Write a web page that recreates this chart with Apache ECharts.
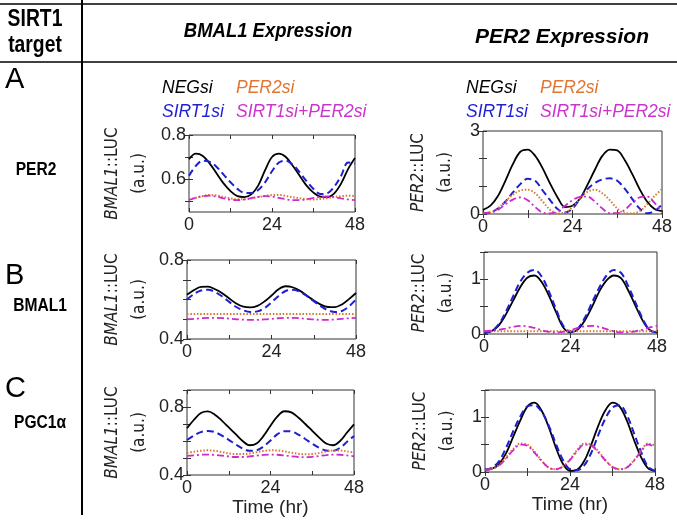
<!DOCTYPE html>
<html><head><meta charset="utf-8">
<script src="https://cdn.jsdelivr.net/npm/echarts@6/dist/echarts.min.js"></script>
<style>html,body{margin:0;padding:0;background:#fff}#c{width:677px;height:526px}</style>
</head><body><div id="c"></div>
<script>
// time samples (hr)
const hours = [0,2,4,6,8,10,12,14,16,18,20,22,24,26,28,30,32,34,36,38,40,42,44,46,48];
const xTickValues = [0,12,24,36,48];
const xTickLabels = [0,24,48];

// Row A (SIRT1 target PER2) - BMAL1::LUC
const aBmalNEG   = [0.69,0.715,0.705,0.67,0.625,0.58,0.545,0.522,0.518,0.53,0.57,0.64,0.70,0.715,0.70,0.66,0.615,0.57,0.538,0.52,0.518,0.535,0.58,0.645,0.695];
const aBmalSIRT1 = [0.615,0.66,0.683,0.678,0.655,0.62,0.585,0.555,0.537,0.536,0.55,0.585,0.635,0.675,0.683,0.665,0.63,0.59,0.555,0.532,0.535,0.565,0.615,0.675,0.67];
const aBmalPER2  = [0.507,0.515,0.523,0.527,0.525,0.518,0.512,0.508,0.508,0.512,0.518,0.523,0.527,0.527,0.523,0.517,0.512,0.508,0.507,0.509,0.513,0.518,0.522,0.524,0.523];
const aBmalBOTH  = [0.505,0.515,0.522,0.524,0.52,0.512,0.506,0.504,0.507,0.513,0.519,0.522,0.52,0.514,0.508,0.504,0.504,0.508,0.514,0.519,0.521,0.518,0.512,0.507,0.504];
// Row A - PER2::LUC
const aPerNEG    = [0.15,0.3,0.65,1.2,1.8,2.25,2.33,2.1,1.65,1.1,0.6,0.25,0.3,0.55,1.05,1.6,2.1,2.33,2.3,1.95,1.45,0.9,0.45,0.18,0.1];
const aPerSIRT1  = [0.02,0.06,0.2,0.45,0.78,1.08,1.27,1.2,0.85,0.5,0.18,0.05,0.2,0.55,0.9,1.12,1.25,1.29,1.2,0.92,0.55,0.2,0.03,0.1,0.35];
const aPerPER2   = [0.02,0.05,0.2,0.45,0.7,0.85,0.88,0.75,0.45,0.15,0.02,0.05,0.25,0.55,0.8,0.88,0.75,0.5,0.2,0.03,0.02,0.1,0.35,0.65,0.9];
const aPerBOTH   = [0.02,0.05,0.15,0.35,0.52,0.6,0.5,0.25,0.05,0.02,0.1,0.3,0.5,0.62,0.63,0.45,0.2,0.03,0.03,0.15,0.4,0.6,0.63,0.4,0.1];

// Row B (SIRT1 target BMAL1) - BMAL1::LUC
const bBmalNEG   = [0.624,0.648,0.664,0.665,0.652,0.632,0.605,0.58,0.564,0.56,0.568,0.59,0.62,0.652,0.667,0.662,0.645,0.62,0.595,0.574,0.562,0.561,0.575,0.602,0.633];
const bBmalSIRT1 = [0.6,0.628,0.646,0.649,0.638,0.615,0.588,0.562,0.545,0.537,0.54,0.556,0.585,0.618,0.643,0.649,0.64,0.618,0.592,0.566,0.546,0.537,0.542,0.565,0.6];
const bBmalPER2  = [0.527,0.527,0.527,0.527,0.527,0.527,0.527,0.527,0.527,0.527,0.527,0.527,0.527,0.527,0.527,0.527,0.527,0.527,0.527,0.527,0.527,0.527,0.527,0.527,0.527];
const bBmalBOTH  = [0.5,0.502,0.505,0.507,0.507,0.506,0.503,0.5,0.498,0.497,0.497,0.499,0.502,0.505,0.507,0.507,0.505,0.502,0.499,0.497,0.497,0.499,0.502,0.505,0.507];
// Row B - PER2::LUC
const bPerNEG    = [0.02,0.05,0.15,0.35,0.6,0.85,1.03,1.07,0.95,0.7,0.4,0.12,0.03,0.08,0.25,0.5,0.78,0.98,1.07,1.02,0.8,0.52,0.25,0.07,0.03];
const bPerSIRT1  = [0.02,0.05,0.17,0.4,0.68,0.95,1.12,1.17,1.05,0.78,0.45,0.15,0.04,0.1,0.3,0.58,0.85,1.07,1.17,1.12,0.88,0.58,0.28,0.07,0.03];
const bPerPER2   = [0.05,0.05,0.05,0.05,0.05,0.05,0.05,0.05,0.05,0.05,0.05,0.05,0.05,0.05,0.05,0.05,0.05,0.05,0.05,0.05,0.05,0.05,0.05,0.05,0.05];
const bPerBOTH   = [0.05,0.06,0.08,0.1,0.13,0.15,0.14,0.11,0.07,0.04,0.03,0.04,0.07,0.11,0.14,0.15,0.13,0.09,0.05,0.03,0.03,0.05,0.08,0.12,0.15];

// Row C (SIRT1 target PGC1a) - BMAL1::LUC
const cBmalNEG   = [0.675,0.725,0.765,0.774,0.755,0.72,0.68,0.64,0.6,0.575,0.585,0.63,0.69,0.745,0.775,0.768,0.738,0.7,0.66,0.62,0.585,0.575,0.6,0.65,0.698];
const cBmalSIRT1 = [0.606,0.632,0.652,0.659,0.652,0.632,0.607,0.58,0.556,0.542,0.545,0.568,0.603,0.64,0.658,0.656,0.638,0.612,0.584,0.56,0.544,0.542,0.56,0.595,0.63];
const cBmalPER2  = [0.53,0.537,0.543,0.545,0.542,0.535,0.527,0.523,0.523,0.527,0.534,0.541,0.545,0.544,0.539,0.531,0.525,0.522,0.524,0.53,0.538,0.544,0.544,0.539,0.532];
const cBmalBOTH  = [0.512,0.516,0.519,0.52,0.518,0.514,0.509,0.506,0.506,0.509,0.514,0.518,0.52,0.519,0.515,0.51,0.506,0.505,0.507,0.512,0.517,0.52,0.519,0.515,0.51];
// Row C - PER2::LUC
const cPerNEG    = [0.04,0.06,0.15,0.35,0.65,0.95,1.2,1.27,1.12,0.82,0.45,0.15,0.02,0.04,0.2,0.5,0.85,1.13,1.27,1.2,0.95,0.6,0.28,0.07,0.02];
const cPerSIRT1  = [0.04,0.08,0.2,0.45,0.75,1.02,1.2,1.22,1.1,0.85,0.52,0.22,0.05,0.03,0.12,0.35,0.68,0.98,1.18,1.22,1.05,0.72,0.38,0.1,0.02];
const cPerPER2   = [0.04,0.06,0.13,0.27,0.42,0.52,0.5,0.37,0.21,0.08,0.05,0.1,0.23,0.4,0.52,0.5,0.38,0.22,0.09,0.05,0.08,0.21,0.38,0.52,0.49];
const cPerBOTH   = [0.04,0.06,0.12,0.25,0.4,0.5,0.48,0.35,0.2,0.08,0.05,0.1,0.22,0.38,0.5,0.48,0.36,0.21,0.09,0.05,0.08,0.2,0.37,0.5,0.47];

const seriesNames = ['NEGsi','SIRT1si','PER2si','SIRT1si+PER2si'];

const COND = "'DejaVu Sans Condensed','Liberation Sans',sans-serif";
const SANS = "'Liberation Sans',Arial,sans-serif";
const AXC = '#333';

const lineStyles = [
  {color:'#000000', type:'solid', width:1.8},
  {color:'#1e1ed2', type:[7,4], width:2},
  {color:'#d8782a', type:[1.5,1.8], width:2},
  {color:'#d028d0', type:[7,3,2,3], width:1.8}
];

const panels = [
  {box:[189,135,166,77], y:[0.45,0.8], ticks:[0.5,0.6,0.7,0.8], labels:[0.6,0.8], gene:'BMAL1', gap:36, data:[aBmalNEG,aBmalSIRT1,aBmalPER2,aBmalBOTH]},
  {box:[483,131,179,83], y:[0,3], ticks:[0,1,2,3], labels:[0,3], gene:'PER2', gap:24, data:[aPerNEG,aPerSIRT1,aPerPER2,aPerBOTH]},
  {box:[187,260,169,79], y:[0.4,0.8], ticks:[0.4,0.5,0.6,0.7,0.8], labels:[0.4,0.8], gene:'BMAL1', gap:34, data:[bBmalNEG,bBmalSIRT1,bBmalPER2,bBmalBOTH]},
  {box:[484,252,173,82], y:[0,1.5], ticks:[0,0.5,1,1.5], labels:[0,1], gene:'PER2', gap:24, data:[bPerNEG,bPerSIRT1,bPerPER2,bPerBOTH]},
  {box:[187,390,167,85], y:[0.4,0.9], ticks:[0.4,0.5,0.6,0.7,0.8,0.9], labels:[0.4,0.8], gene:'BMAL1', gap:34, time:20, data:[cBmalNEG,cBmalSIRT1,cBmalPER2,cBmalBOTH]},
  {box:[485,390,170,82], y:[0,1.5], ticks:[0,0.5,1,1.5], labels:[0,1], gene:'PER2', gap:24, time:23, data:[cPerNEG,cPerSIRT1,cPerPER2,cPerBOTH]}
];

const grid = [], xAxis = [], yAxis = [], series = [];
panels.forEach((p, i) => {
  grid.push({left:p.box[0], top:p.box[1], width:p.box[2], height:p.box[3], show:true,
    borderColor:AXC, borderWidth:1, backgroundColor:'transparent', outerBoundsMode:'none'});
  const xb = {type:'value', gridIndex:i, min:0, max:48, interval:12, position:'bottom',
    axisLine:{show:false}, splitLine:{show:false},
    axisTick:{show:true, inside:true, length:4, customValues:xTickValues, lineStyle:{color:AXC}},
    axisLabel:{show:true, customValues:xTickLabels, margin:4, color:'#222', fontSize:18, fontFamily:SANS}};
  if (p.time) {
    xb.name = 'Time (hr)'; xb.nameLocation = 'middle'; xb.nameGap = p.time;
    xb.nameTextStyle = {fontSize:19, fontFamily:SANS, color:'#222', verticalAlign:'top'};
  }
  xAxis.push(xb);
  xAxis.push({type:'value', gridIndex:i, min:0, max:48, interval:12, position:'top',
    axisLine:{show:false}, splitLine:{show:false}, axisLabel:{show:false},
    axisTick:{show:true, inside:true, length:4, customValues:xTickValues, lineStyle:{color:AXC}}});
  yAxis.push({type:'value', gridIndex:i, min:p.y[0], max:p.y[1], position:'left',
    axisLine:{show:false}, splitLine:{show:false},
    axisTick:{show:true, inside:true, length:4, customValues:p.ticks, lineStyle:{color:AXC}},
    axisLabel:{show:true, customValues:p.labels, margin:3, color:'#222', fontSize:18, fontFamily:SANS,
      formatter: v => String(+v.toFixed(2))},
    name:'{i|' + p.gene + '}{n|::LUC}\n{n|(a.u.)}', nameLocation:'middle', nameGap:p.gap, nameRotate:90,
    nameTextStyle:{fontSize:17, fontFamily:COND, color:'#222', lineHeight:27,
      rich:{i:{fontStyle:'italic', fontSize:17, fontFamily:COND, color:'#222', lineHeight:27},
            n:{fontSize:17, fontFamily:COND, color:'#222', lineHeight:27}}}});
  yAxis.push({type:'value', gridIndex:i, min:p.y[0], max:p.y[1], position:'right',
    axisLine:{show:false}, splitLine:{show:false}, axisLabel:{show:false},
    axisTick:{show:true, inside:true, length:4, customValues:p.ticks, lineStyle:{color:AXC}}});
  p.data.forEach((arr, k) => {
    series.push({type:'line', name:seriesNames[k], xAxisIndex:2*i, yAxisIndex:2*i,
      data: hours.map((h, j) => [h, arr[j]]), smooth:0.35, showSymbol:false, symbol:'none',
      lineStyle:lineStyles[k], silent:true, animation:false, clip:true});
  });
});

const txt = (text, x, y, font, fill, align, sx) => ({type:'text', silent:true, x, y, scaleX:sx||1,
  style:{text, x:0, y:0, font, fill:fill||'#000', align:align||'left', verticalAlign:'middle'}});
const ln = (x1,y1,x2,y2,w) => ({type:'line', silent:true, shape:{x1,y1,x2,y2}, style:{stroke:'#000', lineWidth:w}});

const legendFont = "italic 17.5px 'Liberation Sans',Arial,sans-serif";
const boldF = s => "bold " + s + "px 'Liberation Sans',Arial,sans-serif";
const graphic = [
  ln(0,4,677,4,1.5), ln(0,62,677,62,1.5), ln(82,0,82,515,2),
  txt('SIRT1', 35, 20, boldF(23), '#000', 'center', 0.84),
  txt('target', 35, 46, boldF(23), '#000', 'center', 0.84),
  txt('BMAL1 Expression', 268, 31, "italic bold 21px 'Liberation Sans',Arial,sans-serif", '#000', 'center', 0.88),
  txt('PER2 Expression', 562, 37, "italic bold 21px 'Liberation Sans',Arial,sans-serif", '#000', 'center', 1),
  txt('A', 5, 80, "29px 'Liberation Sans',Arial,sans-serif"),
  txt('B', 5, 276, "29px 'Liberation Sans',Arial,sans-serif"),
  txt('C', 5, 389, "29px 'Liberation Sans',Arial,sans-serif"),
  txt('PER2', 36, 170, boldF(19), '#000', 'center', 0.82),
  txt('BMAL1', 40, 306, boldF(19), '#000', 'center', 0.82),
  txt('PGC1α', 40, 423, boldF(19), '#000', 'center', 0.82),
  txt('NEGsi', 162, 88, legendFont, '#000'),
  txt('PER2si', 236, 88, legendFont, '#e0762f'),
  txt('SIRT1si', 162, 112, legendFont, '#1e1ed2'),
  txt('SIRT1si+PER2si', 236, 112, legendFont, '#cc33cc'),
  txt('NEGsi', 466, 88, legendFont, '#000'),
  txt('PER2si', 540, 88, legendFont, '#e0762f'),
  txt('SIRT1si', 466, 112, legendFont, '#1e1ed2'),
  txt('SIRT1si+PER2si', 540, 112, legendFont, '#cc33cc')
];

const chart = echarts.init(document.getElementById('c'), null, {renderer:'canvas'});
chart.setOption({animation:false, backgroundColor:'#fff', grid, xAxis, yAxis, series, graphic});
</script></body></html>
